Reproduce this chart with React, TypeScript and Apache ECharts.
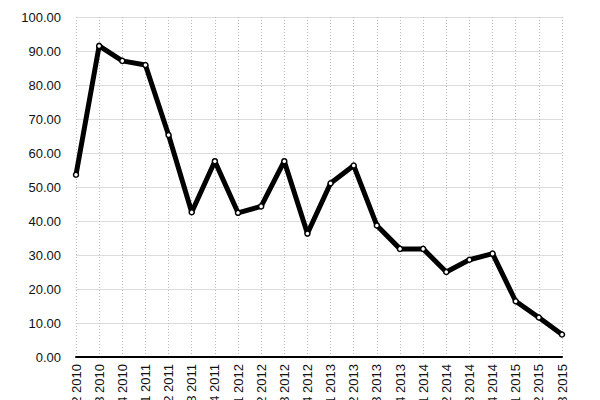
import React, { useEffect, useRef } from "react";
import * as echarts from "echarts";

const categories = [
  "Q2 2010", "Q3 2010", "Q4 2010",
  "Q1 2011", "Q2 2011", "Q3 2011", "Q4 2011",
  "Q1 2012", "Q2 2012", "Q3 2012", "Q4 2012",
  "Q1 2013", "Q2 2013", "Q3 2013", "Q4 2013",
  "Q1 2014", "Q2 2014", "Q3 2014", "Q4 2014",
  "Q1 2015", "Q2 2015", "Q3 2015",
];
const values = [
  53.6, 91.5, 87.1, 85.9, 65.3, 42.6, 57.6, 42.4, 44.3, 57.6, 36.3,
  51.1, 56.3, 38.7, 31.8, 31.8, 25.0, 28.6, 30.4, 16.4, 11.6, 6.6,
];
const yTicks = { min: 0, max: 100, interval: 10 };

export default function App() {
  const ref = useRef<HTMLDivElement>(null);
  useEffect(() => {
    if (!ref.current) return;
    const chart = echarts.init(ref.current, null, { renderer: "svg" });
    chart.setOption({
      animation: false,
      backgroundColor: "#ffffff",
      grid: {
        left: 76,
        right: 38,
        top: 17,
        bottom: 43,
        containLabel: false,
        outerBoundsMode: "none",
      },
      xAxis: {
        type: "category",
        data: categories,
        boundaryGap: false,
        axisLine: { show: true, lineStyle: { color: "#000", width: 2 } },
        axisTick: { show: false },
        axisLabel: {
          rotate: 90,
          margin: 7,
          color: "#111",
          fontSize: 13,
          fontFamily: "Liberation Sans, Arial, sans-serif",
          interval: 0,
        },
        splitLine: {
          show: true,
          interval: 0,
          lineStyle: { color: "#bbb", type: [1, 2], width: 1 },
        },
      },
      yAxis: {
        type: "value",
        min: yTicks.min,
        max: yTicks.max,
        interval: yTicks.interval,
        axisLine: { show: false },
        axisTick: { show: false },
        axisLabel: {
          margin: 15,
          color: "#111",
          fontSize: 13,
          fontFamily: "Liberation Sans, Arial, sans-serif",
          formatter: (v: number) => v.toFixed(2),
        },
        splitLine: { show: true, lineStyle: { color: "#dddddd", width: 1 } },
      },
      series: [
        {
          type: "line",
          data: values,
          lineStyle: { color: "#000", width: 5 },
          symbol: "circle",
          symbolSize: 5,
          showSymbol: true,
          itemStyle: { color: "#fff", borderColor: "#000", borderWidth: 1.5 },
          z: 3,
        },
      ],
    });
    return () => chart.dispose();
  }, []);
  return <div ref={ref} style={{ width: 600, height: 400, position: "fixed", left: 0, top: 0 }} />;
}
